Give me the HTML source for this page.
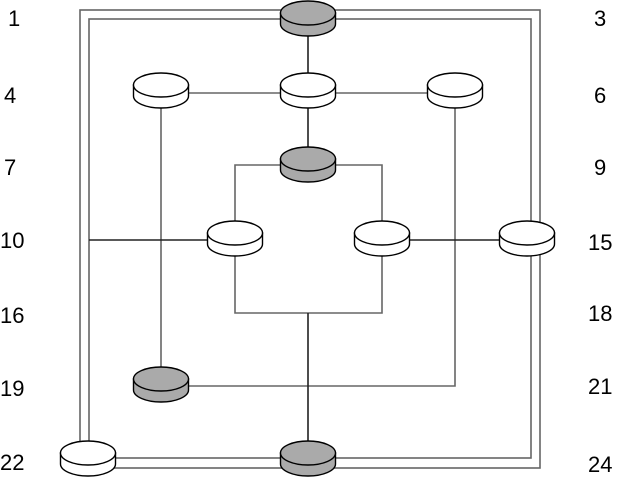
<!DOCTYPE html>
<html><head><meta charset="utf-8"><style>
html,body{margin:0;padding:0;background:#fff;}
svg{display:block}
text{font-family:"Liberation Sans",sans-serif;font-size:22px;fill:#000}
</style></head><body>
<svg width="618" height="480" viewBox="0 0 618 480" xmlns="http://www.w3.org/2000/svg">
<g fill="none" stroke="#666" stroke-width="1.6">
<rect x="80" y="10" width="460" height="458"/>
<rect x="89" y="19" width="442" height="439"/>
<line x1="161" y1="93" x2="455" y2="93"/>
<line x1="161" y1="100" x2="161" y2="380"/>
<polyline points="455,100 455,386 170,386"/>
<polyline points="235,240 235,165 382,165 382,240"/>
<polyline points="235,240 235,313 382,313 382,240"/>
</g>
<g stroke="#222" stroke-width="1.6" fill="none">
<line x1="308" y1="15" x2="308" y2="90"/>
<line x1="308" y1="95" x2="308" y2="165"/>
<line x1="308" y1="313" x2="308" y2="455"/>
<line x1="89" y1="240" x2="235" y2="240"/>
<line x1="382" y1="240" x2="527" y2="240"/>
</g>
<g stroke="#000" stroke-width="1.4">
<g fill="#aaa"><path d="M280.5,13 v11 a27.5,12 0 0 0 55,0 v-11 Z"/><ellipse cx="308" cy="13" rx="27.5" ry="12"/></g>
<g fill="#fff"><path d="M133.5,85 v11 a27.5,12 0 0 0 55,0 v-11 Z"/><ellipse cx="161" cy="85" rx="27.5" ry="12"/></g>
<g fill="#fff"><path d="M280.5,85 v11 a27.5,12 0 0 0 55,0 v-11 Z"/><ellipse cx="308" cy="85" rx="27.5" ry="12"/></g>
<g fill="#fff"><path d="M427.5,85 v11 a27.5,12 0 0 0 55,0 v-11 Z"/><ellipse cx="455" cy="85" rx="27.5" ry="12"/></g>
<g fill="#aaa"><path d="M280.5,159 v11 a27.5,12 0 0 0 55,0 v-11 Z"/><ellipse cx="308" cy="159" rx="27.5" ry="12"/></g>
<g fill="#fff"><path d="M207.5,233 v11 a27.5,12 0 0 0 55,0 v-11 Z"/><ellipse cx="235" cy="233" rx="27.5" ry="12"/></g>
<g fill="#fff"><path d="M354.5,233 v11 a27.5,12 0 0 0 55,0 v-11 Z"/><ellipse cx="382" cy="233" rx="27.5" ry="12"/></g>
<g fill="#fff"><path d="M499.5,233 v11 a27.5,12 0 0 0 55,0 v-11 Z"/><ellipse cx="527" cy="233" rx="27.5" ry="12"/></g>
<g fill="#aaa"><path d="M133.5,379 v11 a27.5,12 0 0 0 55,0 v-11 Z"/><ellipse cx="161" cy="379" rx="27.5" ry="12"/></g>
<g fill="#fff"><path d="M60.5,453 v11 a27.5,12 0 0 0 55,0 v-11 Z"/><ellipse cx="88" cy="453" rx="27.5" ry="12"/></g>
<g fill="#aaa"><path d="M280.5,453 v11 a27.5,12 0 0 0 55,0 v-11 Z"/><ellipse cx="308" cy="453" rx="27.5" ry="12"/></g>
</g>
<g>
<text x="8" y="26">1</text>
<text x="4" y="103">4</text>
<text x="4" y="175">7</text>
<text x="0" y="248">10</text>
<text x="0" y="323">16</text>
<text x="0" y="396">19</text>
<text x="0" y="470">22</text>
<text x="594" y="26">3</text>
<text x="594" y="103">6</text>
<text x="594" y="175">9</text>
<text x="588" y="250">15</text>
<text x="588" y="321">18</text>
<text x="588" y="394">21</text>
<text x="588" y="472">24</text>
</g>
</svg>
</body></html>
